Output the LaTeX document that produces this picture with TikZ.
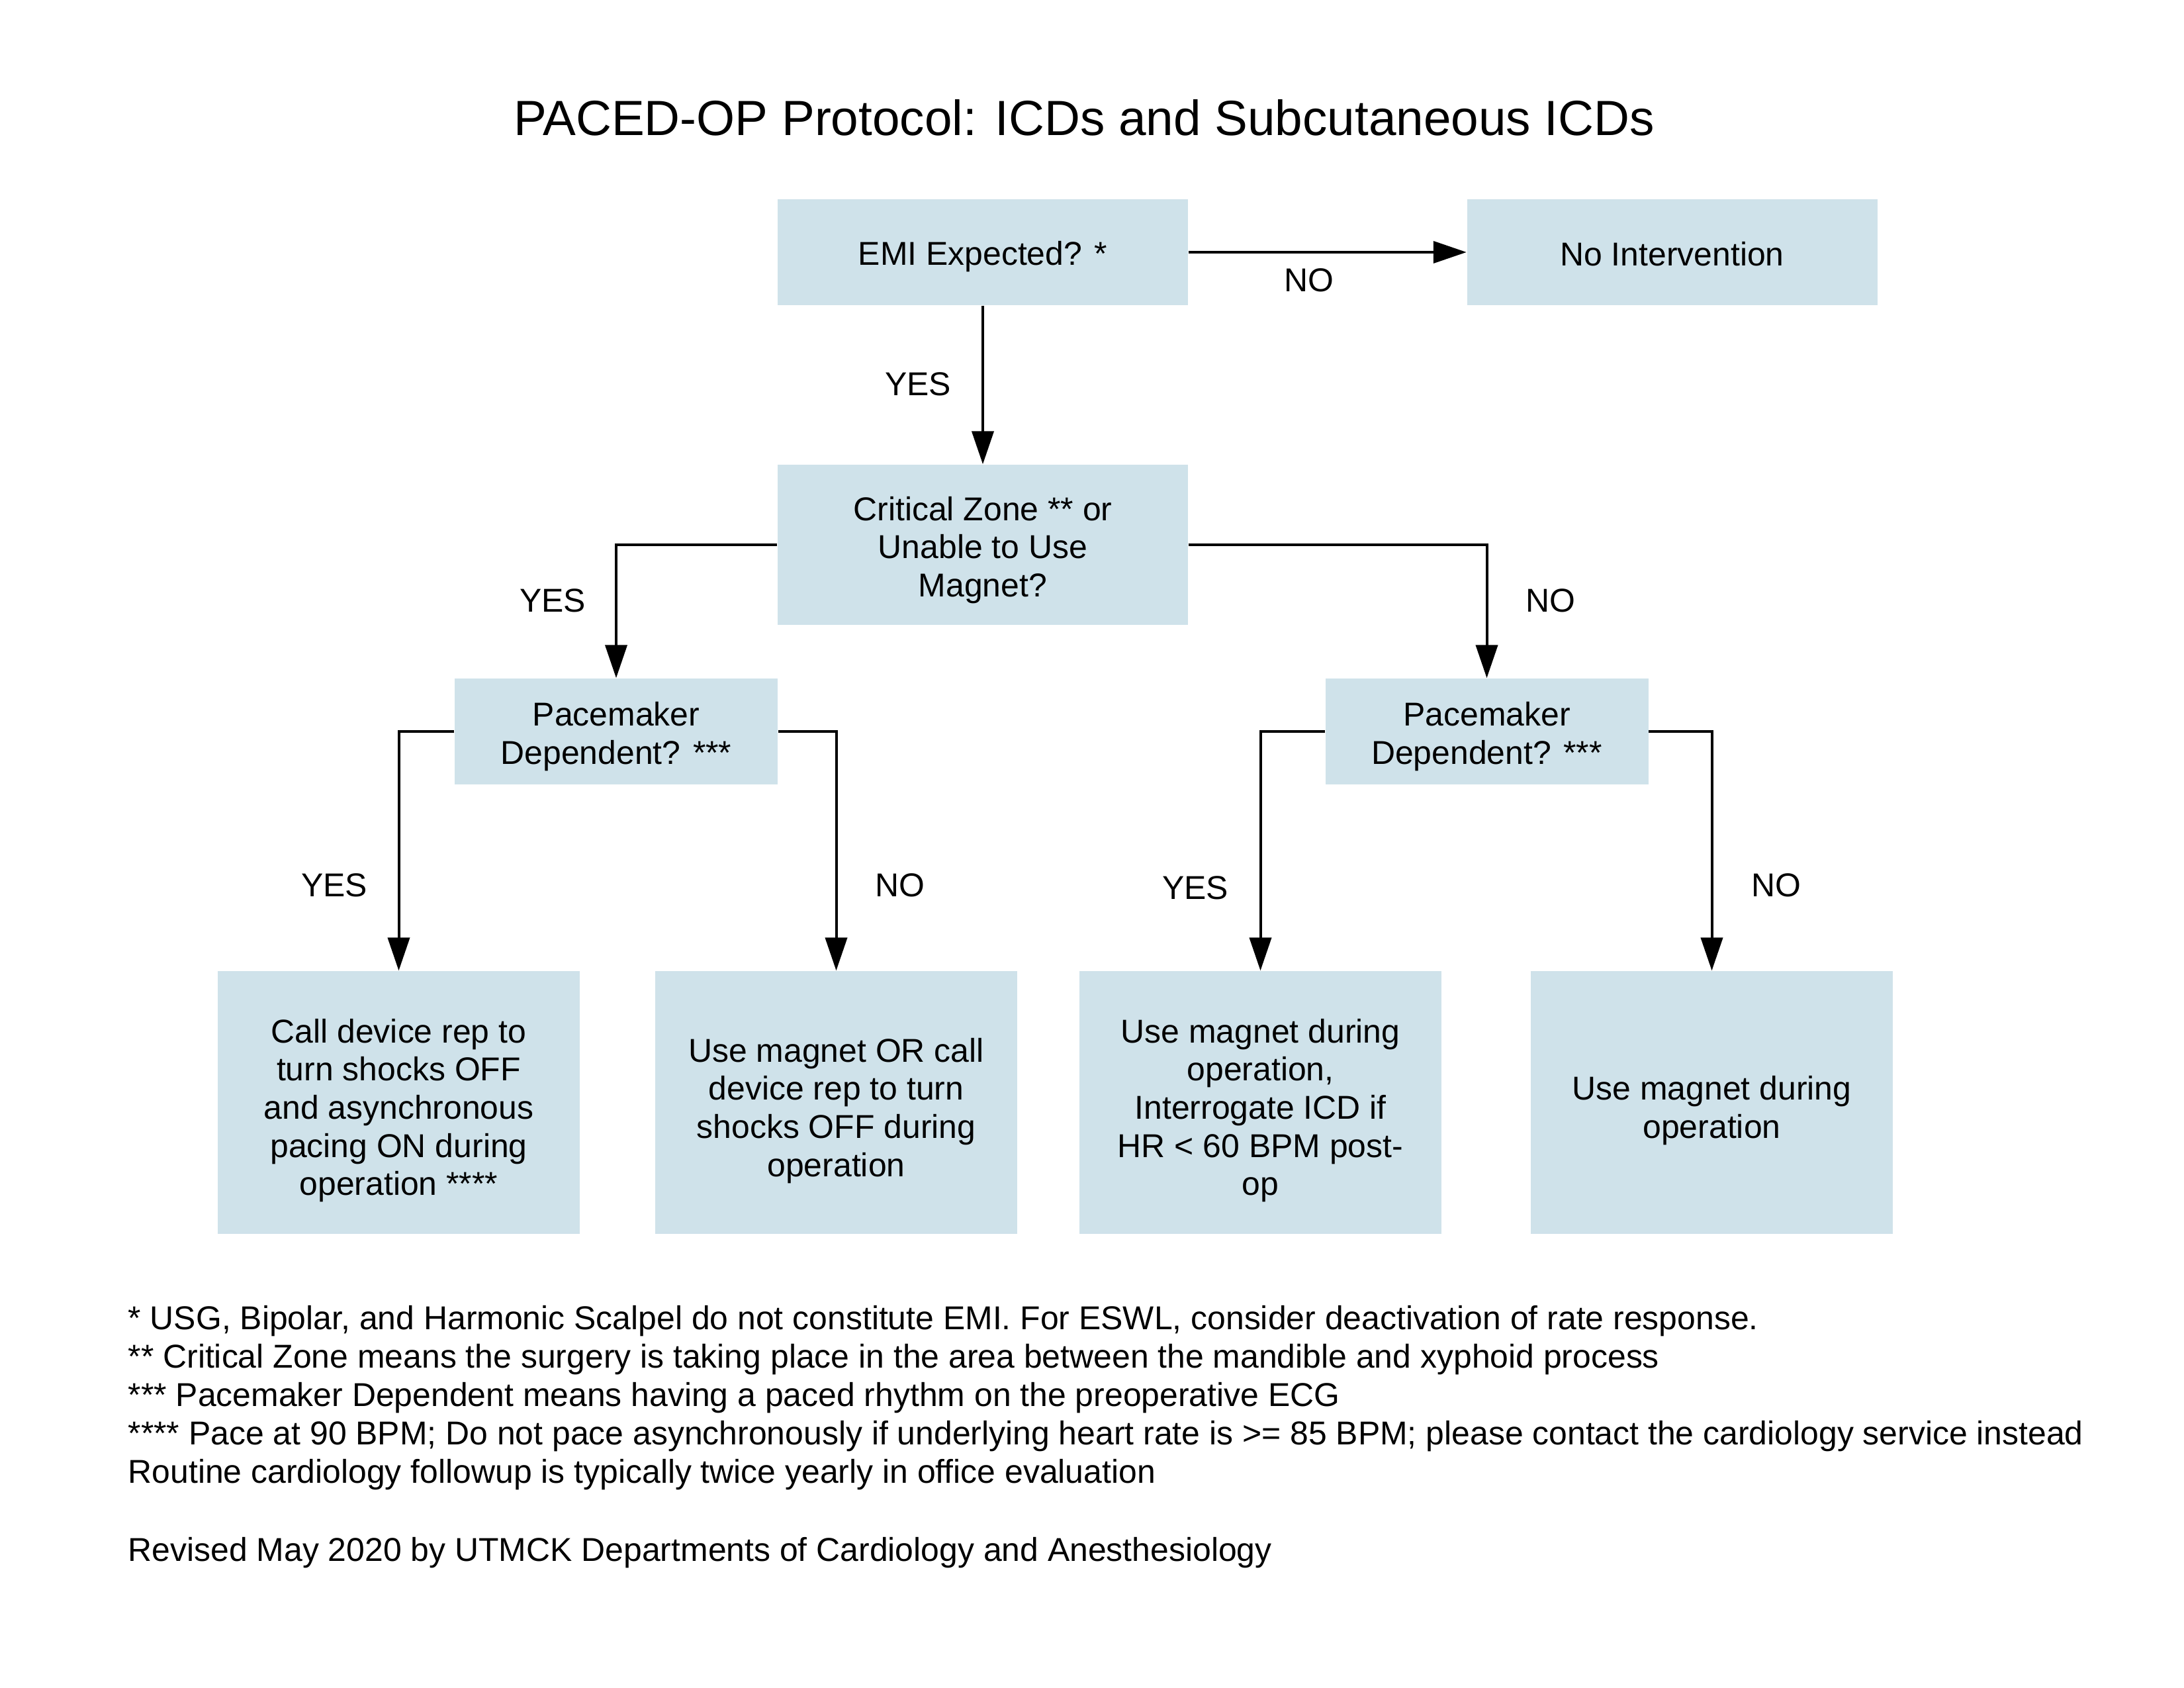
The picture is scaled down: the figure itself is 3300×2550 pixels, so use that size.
\documentclass[tikz,border=0pt]{standalone}
\usepackage{fontspec}
\setmainfont{Liberation Sans}
\usetikzlibrary{arrows.meta}
\definecolor{boxblue}{RGB}{207,226,234}
\newcommand{\tdn}[1]{\rule{0pt}{#1}}
\tikzset{
  box/.style={fill=boxblue, draw=none, inner sep=0pt, align=center,
    font=\fontsize{14.2}{16.4}\selectfont},
  qbox/.style={box, minimum width=62mm, minimum height=16mm},
  pmbox/.style={box, minimum width=48.8mm, minimum height=16mm},
  abox/.style={box, minimum width=54.7mm, minimum height=39.7mm},
  lbl/.style={font=\fontsize{14.2}{16.4}\selectfont, inner sep=0pt},
  fn/.style={font=\fontsize{14.2}{16.4}\selectfont, inner sep=0pt, anchor=base west},
  conn/.style={line width=0.4mm, -{Triangle[length=5mm, width=3.3mm]}},
}
\begin{document}
\begin{tikzpicture}[x=0.1mm, y=-0.1mm]
\useasboundingbox[fill=white] (0,0) rectangle (3300,2550);

\node[font=\fontsize{21.25}{25}\selectfont, inner sep=0pt, anchor=base] (title) at (1638,205) {PACED-OP Protocol: ICDs and Subcutaneous ICDs};

\node[qbox] (emi) at (1485,381) {\tdn{4.85mm}EMI Expected? *};
\node[qbox] (noint) at (2526.5,381) {\tdn{4.05mm}No Intervention};
\node[qbox, minimum height=24.2mm] (crit) at (1485,823) {\tdn{5.2mm}Critical Zone ** or\\Unable to Use\\Magnet?};
\node[pmbox] (pml) at (931,1105) {\tdn{5.15mm}Pacemaker\\Dependent? ***};
\node[pmbox] (pmr) at (2246.5,1105) {\tdn{5.15mm}Pacemaker\\Dependent? ***};

\node[abox] (b1) at (602.5,1665.5) {\tdn{6.05mm}Call device rep to\\turn shocks OFF\\and asynchronous\\pacing ON during\\operation ****};
\node[abox] (b2) at (1263.5,1665.5) {\tdn{6.05mm}Use magnet OR call\\device rep to turn\\shocks OFF during\\operation};
\node[abox] (b3) at (1904.5,1665.5) {\tdn{6.05mm}Use magnet during\\operation,\\Interrogate ICD if\\HR < 60 BPM post-\\op};
\node[abox] (b4) at (2586.5,1665.5) {\tdn{6.05mm}Use magnet during\\operation};

\draw[conn] (emi) -- (noint);
\draw[conn] (emi) -- (crit);
\draw[conn] (crit.west) -| (pml.north);
\draw[conn] (crit.east) -| (pmr.north);
\draw[conn] (pml.west) -| (b1.north);
\draw[conn] (pml.east) -| (b2.north);
\draw[conn] (pmr.west) -| (b3.north);
\draw[conn] (pmr.east) -| (b4.north);

\node[lbl] (l1) at (1978,423) {NO};
\node[lbl] (l2) at (1387,580) {YES};
\node[lbl] (l3) at (835,907) {YES};
\node[lbl] (l4) at (2343,907) {NO};
\node[lbl] (l5) at (505,1337) {YES};
\node[lbl] (l6) at (1360,1337) {NO};
\node[lbl] (l7) at (1806,1341) {YES};
\node[lbl] (l8) at (2684,1337) {NO};

\node[fn] (f1) at (193,2008) {* USG, Bipolar, and Harmonic Scalpel do not constitute EMI. For ESWL, consider deactivation of rate response.};
\node[fn] (f2) at (193,2066) {** Critical Zone means the surgery is taking place in the area between the mandible and xyphoid process};
\node[fn] (f3) at (193,2124) {*** Pacemaker Dependent means having a paced rhythm on the preoperative ECG};
\node[fn] (f4) at (193,2182) {**** Pace at 90 BPM; Do not pace asynchronously if underlying heart rate is >= 85 BPM; please contact the cardiology service instead};
\node[fn] (f5) at (193,2240) {Routine cardiology followup is typically twice yearly in office evaluation};
\node[fn] (f6) at (193,2358) {Revised May 2020 by UTMCK Departments of Cardiology and Anesthesiology};
\end{tikzpicture}
\end{document}
